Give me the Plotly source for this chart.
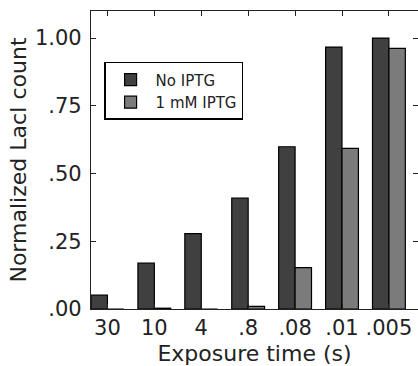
import plotly.graph_objects as go

categories = ["30", "10", "4", ".8", ".08", ".01", ".005"]
no_iptg = [0.051, 0.169, 0.278, 0.409, 0.599, 0.967, 1.0]
iptg_1mm = [0.0, 0.003, 0.0, 0.01, 0.153, 0.593, 0.962]
y_tickvals = [0, 0.25, 0.5, 0.75, 1.0]
y_ticktext = [".00", ".25", ".50", ".75", "1.00"]

idx = list(range(len(categories)))

fig = go.Figure()
fig.add_trace(go.Bar(x=idx, y=no_iptg, name="No IPTG", width=0.35, offset=-0.35,
                     marker=dict(color="#404040", line=dict(color="black", width=1.2))))
fig.add_trace(go.Bar(x=idx, y=iptg_1mm, name="1 mM IPTG", width=0.35, offset=0,
                     marker=dict(color="#7b7b7b", line=dict(color="black", width=1.2))))

fig.update_layout(
    width=418, height=366,
    margin=dict(l=91, r=0, t=11, b=57),
    plot_bgcolor="white", paper_bgcolor="white",
    font=dict(family="DejaVu Sans", color="#222222"),
    barmode="overlay",
    showlegend=True,
    legend=dict(x=0.04, y=0.829, xanchor="left", yanchor="top",
                bordercolor="black", borderwidth=1.5, bgcolor="white",
                font=dict(size=15, family="DejaVu Sans", color="#222222"),
                itemwidth=40, tracegroupgap=2),
    xaxis=dict(range=[-0.35, 6.62], tickvals=idx, ticktext=categories,
               ticks="inside", ticklen=5, tickcolor="#222222",
               showline=True, linecolor="#222222", linewidth=1.2, mirror="allticks",
               showgrid=False, zeroline=False,
               tickfont=dict(size=21),
               title=dict(text="Exposure time (s)", font=dict(size=22), standoff=7)),
    yaxis=dict(range=[0, 1.1], tickvals=y_tickvals, ticktext=y_ticktext,
               ticks="inside", ticklen=5, tickcolor="#222222",
               showline=True, linecolor="#222222", linewidth=1.2, mirror="allticks",
               showgrid=False, zeroline=False, ticklabelstandoff=4,
               tickfont=dict(size=21),
               title=dict(text="Normalized LacI count", font=dict(size=22), standoff=2)),
)

fig.write_html("out.html", config={"displayModeBar": False})

# remove default page margin so the figure sits at the window's top-left corner
with open("out.html", "r", encoding="utf-8") as f:
    html = f.read()
html = html.replace("<body>", "<body style=\"margin:0;padding:0;overflow:hidden\">", 1)
html = html.replace("<head>", "<head><style>html,body{margin:0;padding:0;overflow:hidden}</style>", 1)
with open("out.html", "w", encoding="utf-8") as f:
    f.write(html)
